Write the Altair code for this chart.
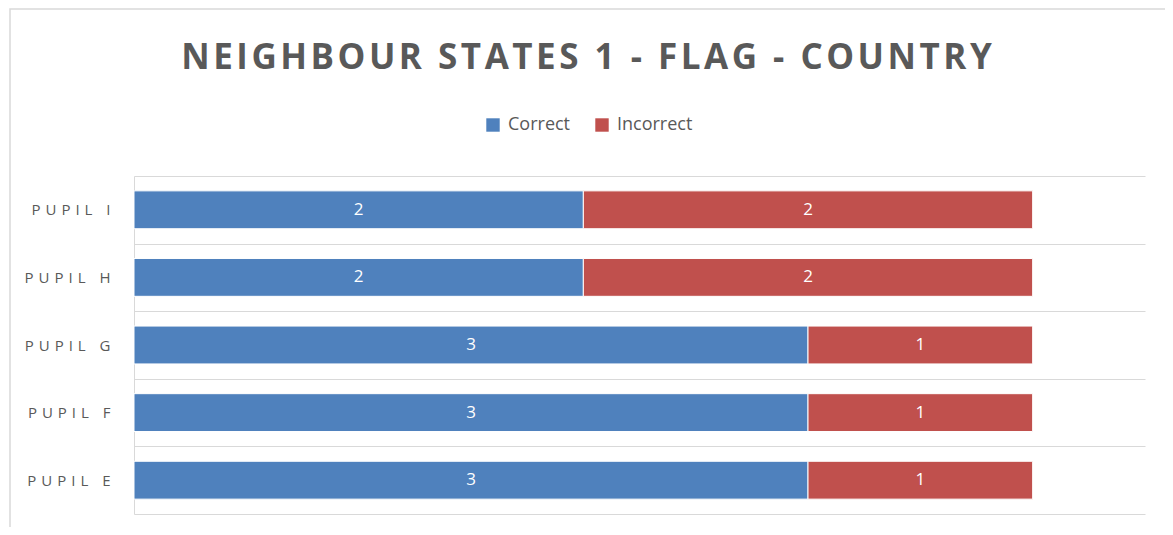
import altair as alt
import pandas as pd

pupils = ["PUPIL I", "PUPIL H", "PUPIL G", "PUPIL F", "PUPIL E"]
correct = [2, 2, 3, 3, 3]
incorrect = [2, 2, 1, 1, 1]
series = ["Correct", "Incorrect"]
colors = ["#4F81BD", "#C0504D"]
title_text = "NEIGHBOUR STATES 1 - FLAG - COUNTRY"

rows = []
for p, c, i in zip(pupils, correct, incorrect):
    rows.append({"pupil": p, "series": "Correct", "value": c, "ord": 0})
    rows.append({"pupil": p, "series": "Incorrect", "value": i, "ord": 1})
df = pd.DataFrame(rows)

FONT = "Open Sans"
GREY = "#595959"
spaced_title = "\u200a".join(title_text)

base = alt.Chart(df).encode(
    y=alt.Y("pupil:N", sort=pupils, title=None,
            scale=alt.Scale(paddingInner=0, paddingOuter=0),
            axis=alt.Axis(tickBand="extent", grid=True, gridColor="#D9D9D9",
                          domainColor="#D9D9D9", ticks=False,
                          labelFont=FONT, labelFontSize=15, labelColor=GREY,
                          labelExpr="join(split(datum.label, ''), '\u2004')",
                          labelPadding=24)),
)

bars = base.mark_bar(stroke="white", strokeWidth=1, height=alt.RelativeBandSize(0.56)).encode(
    x=alt.X("value:Q", stack="zero", title=None,
            scale=alt.Scale(domain=[0, 4.5], nice=False),
            axis=None),
    color=alt.Color("series:N", scale=alt.Scale(domain=series, range=colors),
                    legend=alt.Legend(title=None, orient="none", direction="horizontal",
                                      legendX=350, legendY=-60,
                                      symbolType="square", symbolSize=180,
                                      symbolStrokeWidth=0, symbolOpacity=1,
                                      labelFont=FONT, labelFontSize=18,
                                      labelColor=GREY, labelOffset=6,
                                      columnPadding=22)),
    order=alt.Order("ord:Q"),
)

labels = base.mark_text(color="white", font=FONT, fontSize=17, baseline="middle", align="center").encode(
    x=alt.X("mid:Q", scale=alt.Scale(domain=[0, 4.5], nice=False)),
    text=alt.Text("value:Q"),
).transform_stack(
    stack="value", groupby=["pupil"], sort=[alt.SortField("ord")], as_=["v0", "v1"]
).transform_calculate(mid="(datum.v0 + datum.v1) / 2")

# light outer chart frame
frame = alt.Chart(pd.DataFrame({"f": [0]})).mark_rect(
    fill=None, stroke="#D9D9D9", strokeWidth=1.5, clip=False
).encode(
    x=alt.value(-124), x2=alt.value(1100), y=alt.value(-167), y2=alt.value(400)
)

chart = alt.layer(frame, bars, labels).properties(
    width=1011, height=338,
    title=alt.Title(spaced_title, font=FONT, fontSize=35,
                    fontWeight="bold", color=GREY, anchor="middle", dx=-53,
                    offset=-96, baseline="alphabetic"),
    autosize=alt.AutoSizeParams(type="none"),
    padding={"left": 126, "top": 168, "right": 20, "bottom": 13},
).configure_view(stroke=None).configure_title(limit=2000)

chart.save("out.html", embed_options={"renderer": "svg", "actions": False})
